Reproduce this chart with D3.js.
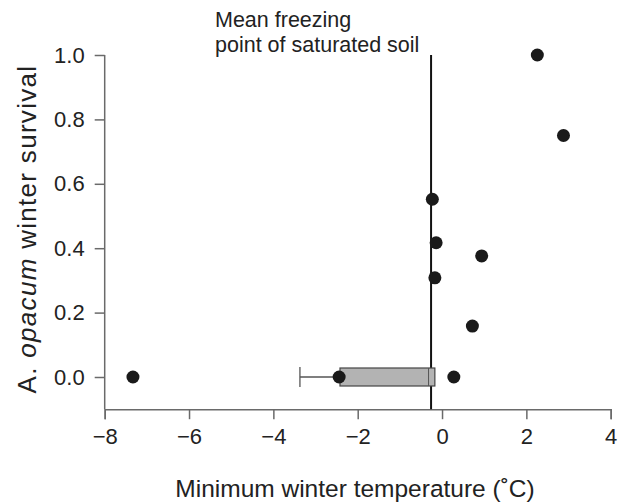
<!DOCTYPE html>
<html><head><meta charset="utf-8">
<script src="https://cdn.jsdelivr.net/npm/d3@7"></script>
<style>body{margin:0;background:#fff}svg{display:block}text{font-family:"Liberation Sans",Arial,sans-serif;fill:#222}</style>
</head><body><svg id="c" width="619" height="502"></svg>
<script>
const xTicks = [-8, -6, -4, -2, 0, 2, 4];
const yTicks = [0.0, 0.2, 0.4, 0.6, 0.8, 1.0];
const temps    = [2.26, 2.88, -0.23, -0.14, 0.94, -0.17, 0.72, -7.33, -2.44, 0.28];
const survival = [1.0, 0.75, 0.552, 0.417, 0.376, 0.308, 0.158, 0.0, 0.0, 0.0];
const boxStats = {whiskerLow: -3.37, q1: -2.42, median: -0.32, q3: -0.17, y: 0.0};
const freezePoint = -0.26;
const annotationLines = ["Mean freezing", "point of saturated soil"];

const svg = d3.select("#c");
const x = d3.scaleLinear().domain([-8, 4]).range([104.7, 610.7]);
const y = d3.scaleLinear().domain([0, 1]).range([377, 55]);
const axisColor = "#6a6a6a";

// x axis
const xg = svg.append("g").attr("transform", `translate(0,${y(-0.1)})`)
  .call(d3.axisBottom(x).tickValues(xTicks).tickSize(10).tickPadding(9)
    .tickFormat(d => d < 0 ? "\u2212" + Math.abs(d) : d));
xg.select(".domain").attr("stroke", axisColor).attr("stroke-width", 1.5);
xg.selectAll(".tick line").attr("stroke", axisColor).attr("stroke-width", 1.5);
xg.selectAll("text").style("font-size", "22px").attr("fill", "#222");

// y axis
const yg = svg.append("g").attr("transform", `translate(${x(-8)},0)`)
  .call(d3.axisLeft(y).tickValues(yTicks).tickSize(10).tickPadding(10).tickFormat(d3.format(".1f")));
yg.select(".domain").attr("d", `M0,${y(1)}V${y(-0.1)}`).attr("stroke", axisColor).attr("stroke-width", 1.5);
yg.selectAll(".tick line").attr("stroke", axisColor).attr("stroke-width", 1.5);
yg.selectAll("text").style("font-size", "22px").attr("fill", "#222");

// freezing point line
svg.append("line").attr("x1", x(freezePoint)).attr("x2", x(freezePoint))
  .attr("y1", y(1)).attr("y2", y(-0.1)).attr("stroke", "#111").attr("stroke-width", 2);

// box plot
const by = y(boxStats.y);
svg.append("line").attr("x1", x(boxStats.whiskerLow)).attr("x2", x(boxStats.q1))
  .attr("y1", by).attr("y2", by).attr("stroke", "#555").attr("stroke-width", 1.3);
svg.append("line").attr("x1", x(boxStats.whiskerLow)).attr("x2", x(boxStats.whiskerLow))
  .attr("y1", by - 10).attr("y2", by + 10).attr("stroke", "#555").attr("stroke-width", 1.3);
svg.append("rect").attr("x", x(boxStats.q1)).attr("y", by - 9)
  .attr("width", x(boxStats.q3) - x(boxStats.q1)).attr("height", 18)
  .attr("fill", "#b3b3b3").attr("stroke", "#444").attr("stroke-width", 1.2);
svg.append("line").attr("x1", x(boxStats.median)).attr("x2", x(boxStats.median))
  .attr("y1", by - 9).attr("y2", by + 9).attr("stroke", "#555").attr("stroke-width", 1);

// points
svg.append("g").selectAll("circle").data(temps).join("circle")
  .attr("cx", d => x(d)).attr("cy", (d, i) => y(survival[i])).attr("r", 6.5).attr("fill", "#1a1a1a");

// annotation
svg.append("text").attr("x", 215).attr("y", 27).style("font-size", "21.5px").text(annotationLines[0]);
svg.append("text").attr("x", 215).attr("y", 52).style("font-size", "21.5px").text(annotationLines[1]);

// axis titles
svg.append("text").attr("x", 355).attr("y", 497).attr("text-anchor", "middle")
  .style("font-size", "24.5px").text("Minimum winter temperature (\u02DAC)");
const yt = svg.append("text").attr("transform", "translate(36,229) rotate(-90)")
  .attr("text-anchor", "middle").style("font-size", "26px").style("letter-spacing", "1.3px");
yt.append("tspan").text("A. ");
yt.append("tspan").style("font-style", "italic").text("opacum");
yt.append("tspan").text(" winter survival");
</script></body></html>
